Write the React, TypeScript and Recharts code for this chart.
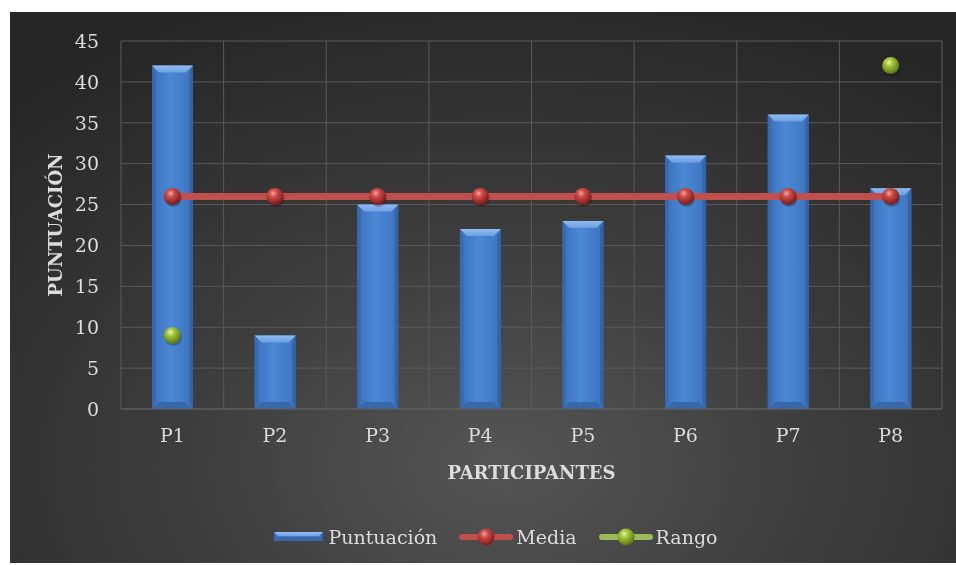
import React from 'react'
import { ComposedChart, Bar, Line, XAxis, YAxis, CartesianGrid, Legend } from 'recharts'

const categories = ['P1', 'P2', 'P3', 'P4', 'P5', 'P6', 'P7', 'P8']
const puntuacion = [42, 9, 25, 22, 23, 31, 36, 27]
const media = [26, 26, 26, 26, 26, 26, 26, 26]
const rango = [9, null, null, null, null, null, null, 42]
const yTicks = [0, 5, 10, 15, 20, 25, 30, 35, 40, 45]

const data = categories.map((name, i) => ({
    name,
    Puntuacion: puntuacion[i],
    Media: media[i],
    Rango: rango[i],
}))

const FONT = '"DejaVu Serif", serif'
const TEXT = '#dcdcdc'

// bar with an Excel-like bevel
const BevelBar = (props: any) => {
    const { x, y, width, height } = props
    if (!height || height <= 0) return null
    const b = Math.min(7, height / 2, width / 2)
    return (
        <g>
            <rect x={x} y={y} width={width} height={height} fill="url(#barBody)" />
            <polygon
                points={`${x},${y} ${x + width},${y} ${x + width - b},${y + b} ${x + b},${y + b}`}
                fill="url(#barTop)"
            />
            <polygon
                points={`${x},${y} ${x + b * 0.5},${y + b} ${x + b * 0.5},${y + height - b} ${x},${y + height}`}
                fill="#3565a8"
                opacity={0.7}
            />
            <polygon
                points={`${x + width},${y} ${x + width - b * 0.5},${y + b} ${x + width - b * 0.5},${y + height - b} ${x + width},${y + height}`}
                fill="#2f5c9c"
                opacity={0.7}
            />
            <polygon
                points={`${x},${y + height} ${x + width},${y + height} ${x + width - b},${y + height - b} ${x + b},${y + height - b}`}
                fill="#3768ab"
            />
        </g>
    )
}

const Ball = ({ cx, cy, fill, r = 8.5 }: { cx: number; cy: number; fill: string; r?: number }) => (
    <g>
        <circle cx={cx + 1} cy={cy + 2} r={r} fill="#000" opacity={0.25} />
        <circle cx={cx} cy={cy} r={r} fill={fill} />
    </g>
)

const RedDot = (props: any) => {
    const { cx, cy, index } = props
    if (cx == null || cy == null) return <g key={`r-${index}`} />
    return <Ball key={`r-${index}`} cx={cx} cy={cy} fill="url(#redBall)" />
}

const GreenDot = (props: any) => {
    const { cx, cy, index, value } = props
    if (cx == null || cy == null || value == null) return <g key={`g-${index}`} />
    return <Ball key={`g-${index}`} cx={cx} cy={cy} fill="url(#greenBall)" />
}

const YTitle = (props: any) => {
    const { viewBox } = props
    const cx = viewBox.x + 25
    const cy = viewBox.y + viewBox.height / 2
    return (
        <text
            x={cx}
            y={cy}
            transform={`rotate(-90 ${cx} ${cy})`}
            textAnchor="middle"
            dominantBaseline="central"
            fill={TEXT}
            fontFamily={FONT}
            fontWeight="bold"
            fontSize={18}
        >
            PUNTUACIÓN
        </text>
    )
}

const XTitle = (props: any) => {
    const { viewBox } = props
    return (
        <text
            x={viewBox.x + viewBox.width / 2}
            y={viewBox.y + 63}
            textAnchor="middle"
            dominantBaseline="central"
            fill={TEXT}
            fontFamily={FONT}
            fontWeight="bold"
            fontSize={18}
        >
            PARTICIPANTES
        </text>
    )
}

const renderLegend = () => (
    <div
        style={{
            display: 'flex',
            justifyContent: 'center',
            alignItems: 'center',
            height: 24,
            paddingLeft: 20,
            fontFamily: FONT,
            fontSize: 19,
            color: TEXT,
        }}
    >
        <svg width={50} height={12} style={{ marginRight: 4 }}>
            <BevelBar x={0} y={1} width={49} height={9} />
        </svg>
        <span style={{ marginRight: 22 }}>Puntuación</span>
        <svg width={54} height={20} style={{ marginRight: 3 }}>
            <line x1={3} y1={10} x2={51} y2={10} stroke="#c0504d" strokeWidth={6} strokeLinecap="round" />
            <circle cx={27} cy={10} r={8.5} fill="url(#redBall)" />
        </svg>
        <span style={{ marginRight: 22 }}>Media</span>
        <svg width={54} height={20} style={{ marginRight: 3 }}>
            <line x1={3} y1={10} x2={51} y2={10} stroke="#9bbb59" strokeWidth={6} strokeLinecap="round" />
            <circle cx={27} cy={10} r={8.5} fill="url(#greenBall)" />
        </svg>
        <span>Rango</span>
    </div>
)

export default function App() {
    return (
        <div
            style={{
                position: 'fixed',
                left: 10,
                top: 12,
                width: 946,
                height: 551,
                background: 'radial-gradient(ellipse 75% 90% at 52% 82%, #555555 0%, #3d3d3d 45%, #262626 100%)',
            }}
        >
            <svg width={0} height={0} style={{ position: 'absolute' }}>
                <defs>
                    <linearGradient id="barBody" x1="0" y1="0" x2="1" y2="0">
                        <stop offset="0%" stopColor="#3b71bb" />
                        <stop offset="45%" stopColor="#4b88d6" />
                        <stop offset="100%" stopColor="#3d73bd" />
                    </linearGradient>
                    <linearGradient id="barTop" x1="0" y1="0" x2="0" y2="1">
                        <stop offset="0%" stopColor="#8fbcf2" />
                        <stop offset="100%" stopColor="#6c9fe2" />
                    </linearGradient>
                    <radialGradient id="redBall" cx="40%" cy="32%" r="65%">
                        <stop offset="0%" stopColor="#f3a3a0" />
                        <stop offset="35%" stopColor="#cd4b47" />
                        <stop offset="100%" stopColor="#7e1e1c" />
                    </radialGradient>
                    <radialGradient id="greenBall" cx="40%" cy="32%" r="65%">
                        <stop offset="0%" stopColor="#e6f5a6" />
                        <stop offset="35%" stopColor="#a5c63c" />
                        <stop offset="100%" stopColor="#5b7a14" />
                    </radialGradient>
                </defs>
            </svg>
            <ComposedChart
                width={946}
                height={551}
                data={data}
                margin={{ top: 29, right: 14, bottom: 14, left: 20 }}
                barCategoryGap={0}
            >
                <CartesianGrid
                    stroke="#5a5a5a"
                    strokeWidth={1}
                    verticalCoordinatesGenerator={({ offset }: any) =>
                        categories.map((_, i) => offset.left + (i * offset.width) / categories.length).concat(offset.left + offset.width)
                    }
                />
                <XAxis
                    dataKey="name"
                    height={116}
                    axisLine={{ stroke: '#606060' }}
                    tickLine={false}
                    tickSize={0}
                    tickMargin={20}
                    tick={{ fill: TEXT, fontSize: 19, fontFamily: FONT }}
                    label={<XTitle />}
                />
                <YAxis
                    width={91}
                    domain={[0, 45]}
                    ticks={yTicks}
                    interval={0}
                    axisLine={false}
                    tickLine={false}
                    tickSize={0}
                    tickMargin={22}
                    tick={{ fill: TEXT, fontSize: 19, fontFamily: FONT }}
                    label={<YTitle />}
                />
                <Legend verticalAlign="bottom" height={24} content={renderLegend} />
                <Bar dataKey="Puntuacion" name="Puntuación" barSize={41} shape={<BevelBar />} isAnimationActive={false} />
                <Line
                    dataKey="Media"
                    stroke="#c0504d"
                    strokeWidth={7}
                    dot={RedDot}
                    activeDot={false}
                    isAnimationActive={false}
                />
                <Line
                    dataKey="Rango"
                    stroke="none"
                    dot={GreenDot}
                    activeDot={false}
                    connectNulls={false}
                    isAnimationActive={false}
                />
            </ComposedChart>
        </div>
    )
}
